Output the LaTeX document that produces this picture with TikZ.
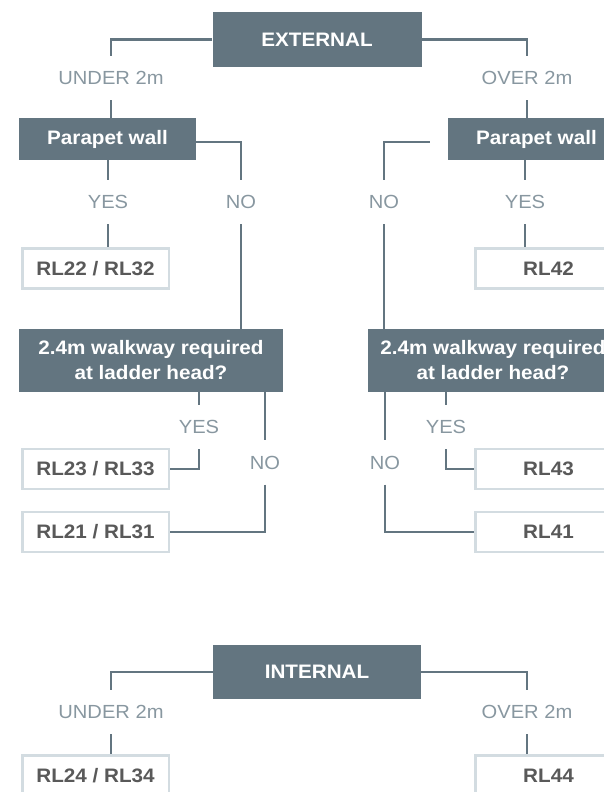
\documentclass[tikz,border=0pt]{standalone}
\usepackage{fontspec}
\setmainfont{Liberation Sans}[FakeStretch=1.06]
\definecolor{slate}{RGB}{99,117,128}
\definecolor{labgray}{RGB}{136,151,160}
\definecolor{lightborder}{RGB}{211,220,225}
\definecolor{boxtext}{RGB}{89,89,89}
\tikzset{
  darkbox/.style={rectangle, fill=slate, draw=none, inner sep=0pt, text=white,
    font=\fontsize{19.5}{25}\selectfont\bfseries, align=center},
  lightbox/.style={rectangle, draw=lightborder, line width=2.5pt, fill=white, inner sep=0pt,
    minimum width=146.5pt, minimum height=40pt, text=boxtext,
    font=\fontsize{19.5}{25}\selectfont\bfseries},
  lab/.style={inner sep=0pt, minimum height=44pt, text=labgray,
    font=\fontsize{19}{22}\selectfont},
  conn/.style={draw=slate, line width=2.6pt}
}
\begin{document}
\begin{tikzpicture}[x=1pt,y=-1pt]
\useasboundingbox (0,0) rectangle (604,792);
% dark boxes
\node[darkbox, minimum width=209pt, minimum height=55pt] (ext) at (317,39.5) {EXTERNAL};
\node[darkbox, minimum width=177pt, minimum height=42pt] (pwL) at (107.5,139) {Parapet wall};
\node[darkbox, minimum width=177pt, minimum height=42pt] (pwR) at (536.5,139) {Parapet wall};
\node[darkbox, minimum width=264pt, minimum height=63pt] (wwL) at (151,360.5) {2.4m walkway required\\at ladder head?};
\node[darkbox, minimum width=250pt, minimum height=63pt] (wwR) at (493,360.5) {2.4m walkway required\\at ladder head?};
\node[darkbox, minimum width=208pt, minimum height=54pt] (int) at (317,672) {INTERNAL};
% light boxes
\node[lightbox] (rl22) at (95.5,268.5) {RL22 / RL32};
\node[lightbox] (rl42) at (548.5,268.5) {RL42};
\node[lightbox] (rl23) at (95.5,469) {RL23 / RL33};
\node[lightbox] (rl21) at (95.5,532) {RL21 / RL31};
\node[lightbox] (rl43) at (548.5,469) {RL43};
\node[lightbox] (rl41) at (548.5,532) {RL41};
\node[lightbox] (rl24) at (95.5,775.5) {RL24 / RL34};
\node[lightbox] (rl44) at (548.5,775.5) {RL44};
% labels
\node[lab] (u1) at (111,78) {UNDER 2m};
\node[lab] (o1) at (527,78) {OVER 2m};
\node[lab] (yL) at (108,202) {YES};
\node[lab] (nL) at (241,202) {NO};
\node[lab] (nR) at (384,202) {NO};
\node[lab] (yR) at (525,202) {YES};
\node[lab] (yL2) at (199,427) {YES};
\node[lab] (nL2) at (265,462.5) {NO};
\node[lab] (yR2) at (446,427) {YES};
\node[lab] (nR2) at (385,462.5) {NO};
\node[lab] (u2) at (111,712) {UNDER 2m};
\node[lab] (o2) at (527,712) {OVER 2m};
% connectors
\draw[conn] (ext.west) -| (u1.north);
\draw[conn] (u1.south) -- (u1.south |- pwL.north);
\draw[conn] (ext.east) -| (o1.north);
\draw[conn] (o1.south) -- (o1.south |- pwR.north);
\draw[conn] (yL.north |- pwL.south) -- (yL.north);
\draw[conn] (yL.south) -- (yL.south |- rl22.north);
\draw[conn] ([yshift=-3pt]pwL.east) -| (nL.north);
\draw[conn] (nL.south) -- (nL.south |- wwL.north);
\draw[conn] ([xshift=-18pt,yshift=-3pt]pwR.west) -| (nR.north);
\draw[conn] (nR.south) -- (nR.south |- wwR.north);
\draw[conn] (yR.north |- pwR.south) -- (yR.north);
\draw[conn] (yR.south) -- (yR.south |- rl42.north);
\draw[conn] (yL2.north |- wwL.south) -- (yL2.north);
\draw[conn] (yL2.south) |- (rl23.east);
\draw[conn] (nL2.north |- wwL.south) -- (nL2.north);
\draw[conn] (nL2.south) |- (rl21.east);
\draw[conn] (yR2.north |- wwR.south) -- (yR2.north);
\draw[conn] (yR2.south) |- (rl43.west);
\draw[conn] (nR2.north |- wwR.south) -- (nR2.north);
\draw[conn] (nR2.south) |- (rl41.west);
\draw[conn] (int.west) -| (u2.north);
\draw[conn] (u2.south) -- (u2.south |- rl24.north);
\draw[conn] (int.east) -| (o2.north);
\draw[conn] (o2.south) -- (o2.south |- rl44.north);
\end{tikzpicture}
\end{document}
